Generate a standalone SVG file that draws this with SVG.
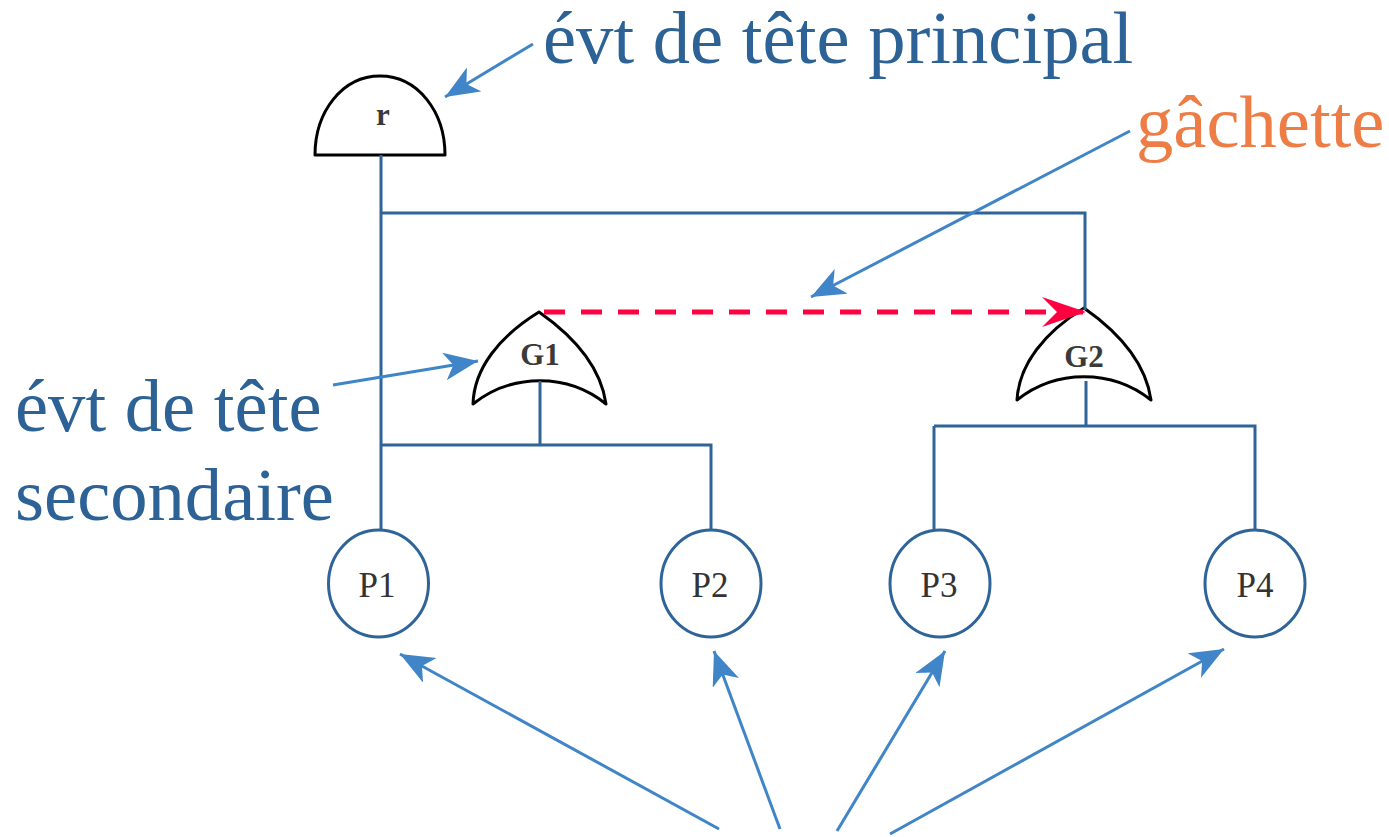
<svg xmlns="http://www.w3.org/2000/svg" width="1389" height="837" viewBox="0 0 1389 837">
<defs>
<marker id="blueHead" markerUnits="userSpaceOnUse" markerWidth="36" markerHeight="30" refX="34" refY="14" orient="auto"><path d="M0 0 L34 14 L0 28 L9 14 Z" fill="#3f85c8"/></marker>
<marker id="redHead" markerUnits="userSpaceOnUse" markerWidth="46" markerHeight="34" refX="44" refY="15" orient="auto"><path d="M0 0 L44 15 L0 30 L15 15 Z" fill="#ff0040"/></marker>
</defs>
<style>
.tree{fill:none;stroke:#2f6499;stroke-width:3}
.call{fill:none;stroke:#3f85c8;stroke-width:3;marker-end:url(#blueHead)}
.gate{fill:#fff;stroke:#000;stroke-width:3;stroke-linejoin:round}
.leaf{fill:#fff;stroke:#2f6499;stroke-width:3}
text{font-family:"Liberation Serif","Times New Roman",serif}
.big{font-size:74.600px;fill:#2c6295}
.node{font-size:35px;fill:#333;text-anchor:middle}
.bold{font-size:31px;fill:#3a3a3a;font-weight:bold;text-anchor:middle}
</style>
<rect width="1389" height="837" fill="#fff"/>
<g id="r"><path class="gate" d="M315 155C315 112 342 76 380 76C418 76 445 112 445 155Z"/><text class="bold" x="383" y="125">r</text></g>
<g id="G1"><path class="gate" d="M539 312C500 336 474 368 473 404C512 373 568 373 606 404C601 368 576 338 539 312Z"/><text class="bold" x="540" y="365">G1</text></g>
<g id="G2"><path class="gate" d="M1084 308C1045 332 1019 364 1017 400C1056 369 1112 369 1151 400C1146 364 1121 334 1084 308Z"/><text class="bold" x="1084" y="367">G2</text></g>
<g id="P1"><ellipse class="leaf" cx="378.500" cy="583.500" rx="50" ry="53.500"/><text class="node" x="377" y="597">P1</text></g>
<g id="P2"><ellipse class="leaf" cx="711" cy="583.500" rx="50" ry="53.500"/><text class="node" x="710" y="597">P2</text></g>
<g id="P3"><ellipse class="leaf" cx="940" cy="583.500" rx="50" ry="53.500"/><text class="node" x="939" y="597">P3</text></g>
<g id="P4"><ellipse class="leaf" cx="1255" cy="583.500" rx="50" ry="53.500"/><text class="node" x="1255" y="597">P4</text></g>
<g id="connectors">
<path d="M544 312H1086" fill="none" stroke="#ff0040" stroke-width="5" stroke-dasharray="21 16" marker-end="url(#redHead)"/>
<path class="tree" d="M381 155V529M381 213H1085V310M381 445H711V529M540 381V445M1086 381V426M934 426H1255V529M934 426V529"/>
<path class="call" d="M533 44L445 97"/>
<path class="call" d="M1130 131L811 297"/>
<path class="call" d="M333 385L478 361"/>
<path class="call" d="M719 829L400 654"/>
<path class="call" d="M780 829L714 651"/>
<path class="call" d="M837 831L945 651"/>
<path class="call" d="M890 834L1224 649"/>
</g>
<g id="labels">
<text class="big" x="543" y="63">évt de tête principal</text>
<text class="big" x="1136" y="146.500" style="fill:#ed7d45">gâchette</text>
<text class="big" x="15" y="431">évt de tête</text>
<text class="big" x="15" y="520">secondaire</text>
</g>
</svg>
